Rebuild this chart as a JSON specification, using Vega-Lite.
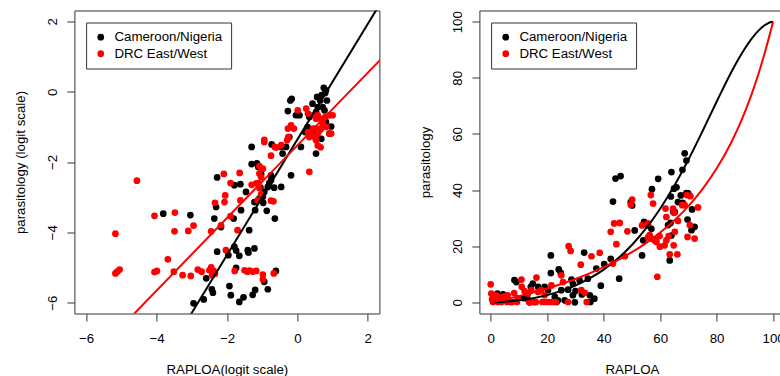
{
"$schema": "https://vega.github.io/schema/vega-lite/v6.json",
"autosize": {"type": "pad"},
"padding": {"left": 12.4, "top": 9.5, "right": 0, "bottom": 0},
"background": "white",
"config": {
  "font": "Liberation Sans",
  "view": {"stroke": "#333", "strokeWidth": 1},
  "axis": {"grid": false, "domain": false, "tickColor": "#333", "tickSize": 7.5, "tickWidth": 1,
    "labelFont": "Liberation Sans", "labelFontSize": 13.3, "labelColor": "black", "labelOverlap": false, "labelFlush": false,
    "titleFont": "Liberation Sans", "titleFontSize": 13.3, "titleFontWeight": "normal", "titleColor": "black"},
  "axisX": {"labelBaseline": "alphabetic", "labelPadding": 21.9, "titleX": 152.5, "titleY": 60.5, "titleAlign": "center", "titleBaseline": "alphabetic"},
  "axisY": {"labelAngle": -90, "labelAlign": "center", "labelBaseline": "alphabetic", "labelPadding": 10, "titleX": -50, "titleY": 151.5, "titleAngle": -90, "titleAlign": "center", "titleBaseline": "alphabetic"},
  "legend": {"orient": "none", "legendX": 11.7, "legendY": 12, "strokeColor": "#333", "fillColor": "white", "padding": 8,
    "symbolType": "circle", "symbolSize": 45, "symbolStrokeWidth": 0, "symbolOpacity": 1,
    "labelFont": "Liberation Sans", "labelFontSize": 13.3, "labelColor": "black", "labelOffset": 7, "rowPadding": 2.5}
},
"datasets": {
  "lp": [
    {"g":"Cameroon/Nigeria","x":-3.81,"y":-3.47},{"g":"Cameroon/Nigeria","x":-3.04,"y":-3.51},{"g":"Cameroon/Nigeria","x":-2.95,"y":-6.02},
    {"g":"Cameroon/Nigeria","x":-2.66,"y":-5.91},{"g":"Cameroon/Nigeria","x":-2.59,"y":-5.31},{"g":"Cameroon/Nigeria","x":-2.43,"y":-5.62},
    {"g":"Cameroon/Nigeria","x":-2.40,"y":-5.72},{"g":"Cameroon/Nigeria","x":-2.36,"y":-3.61},{"g":"Cameroon/Nigeria","x":-2.31,"y":-3.28},
    {"g":"Cameroon/Nigeria","x":-2.28,"y":-2.44},{"g":"Cameroon/Nigeria","x":-2.28,"y":-4.55},{"g":"Cameroon/Nigeria","x":-2.17,"y":-3.85},
    {"g":"Cameroon/Nigeria","x":-1.93,"y":-5.53},{"g":"Cameroon/Nigeria","x":-1.89,"y":-5.79},{"g":"Cameroon/Nigeria","x":-1.79,"y":-2.66},
    {"g":"Cameroon/Nigeria","x":-1.81,"y":-3.61},{"g":"Cameroon/Nigeria","x":-1.79,"y":-4.41},{"g":"Cameroon/Nigeria","x":-1.74,"y":-4.52},
    {"g":"Cameroon/Nigeria","x":-1.65,"y":-4.67},{"g":"Cameroon/Nigeria","x":-1.74,"y":-5.01},{"g":"Cameroon/Nigeria","x":-1.62,"y":-2.63},
    {"g":"Cameroon/Nigeria","x":-1.60,"y":-3.37},{"g":"Cameroon/Nigeria","x":-1.65,"y":-5.98},{"g":"Cameroon/Nigeria","x":-1.53,"y":-5.85},
    {"g":"Cameroon/Nigeria","x":-1.46,"y":-2.85},{"g":"Cameroon/Nigeria","x":-1.41,"y":-4.51},{"g":"Cameroon/Nigeria","x":-1.37,"y":-3.94},
    {"g":"Cameroon/Nigeria","x":-1.30,"y":-1.57},{"g":"Cameroon/Nigeria","x":-1.30,"y":-2.06},{"g":"Cameroon/Nigeria","x":-1.27,"y":-5.78},
    {"g":"Cameroon/Nigeria","x":-1.20,"y":-5.64},{"g":"Cameroon/Nigeria","x":-1.22,"y":-4.46},{"g":"Cameroon/Nigeria","x":-1.20,"y":-3.37},
    {"g":"Cameroon/Nigeria","x":-1.15,"y":-2.04},{"g":"Cameroon/Nigeria","x":-1.11,"y":-2.14},{"g":"Cameroon/Nigeria","x":-1.03,"y":-2.34},
    {"g":"Cameroon/Nigeria","x":-1.05,"y":-2.73},{"g":"Cameroon/Nigeria","x":-0.98,"y":-2.99},{"g":"Cameroon/Nigeria","x":-0.97,"y":-3.16},
    {"g":"Cameroon/Nigeria","x":-0.94,"y":-5.41},{"g":"Cameroon/Nigeria","x":-0.87,"y":-3.39},{"g":"Cameroon/Nigeria","x":-0.84,"y":-5.62},
    {"g":"Cameroon/Nigeria","x":-0.80,"y":-2.60},{"g":"Cameroon/Nigeria","x":-0.75,"y":-2.38},{"g":"Cameroon/Nigeria","x":-0.73,"y":-1.50},
    {"g":"Cameroon/Nigeria","x":-0.66,"y":-2.73},{"g":"Cameroon/Nigeria","x":-0.64,"y":-3.61},{"g":"Cameroon/Nigeria","x":-0.61,"y":-5.10},
    {"g":"Cameroon/Nigeria","x":-0.46,"y":-2.71},{"g":"Cameroon/Nigeria","x":-0.42,"y":-1.76},{"g":"Cameroon/Nigeria","x":-0.32,"y":-1.57},
    {"g":"Cameroon/Nigeria","x":-0.18,"y":-2.38},{"g":"Cameroon/Nigeria","x":-0.23,"y":-1.29},{"g":"Cameroon/Nigeria","x":-0.27,"y":-0.55},
    {"g":"Cameroon/Nigeria","x":-0.20,"y":-0.25},{"g":"Cameroon/Nigeria","x":-0.16,"y":-0.20},{"g":"Cameroon/Nigeria","x":-0.04,"y":-0.67},
    {"g":"Cameroon/Nigeria","x":0.06,"y":-0.67},{"g":"Cameroon/Nigeria","x":0.10,"y":-1.57},{"g":"Cameroon/Nigeria","x":0.22,"y":-1.15},
    {"g":"Cameroon/Nigeria","x":0.34,"y":-0.72},{"g":"Cameroon/Nigeria","x":0.43,"y":-0.34},{"g":"Cameroon/Nigeria","x":0.53,"y":-0.58},
    {"g":"Cameroon/Nigeria","x":0.56,"y":-0.15},{"g":"Cameroon/Nigeria","x":0.58,"y":-0.44},{"g":"Cameroon/Nigeria","x":0.53,"y":-1.76},
    {"g":"Cameroon/Nigeria","x":0.65,"y":-0.25},{"g":"Cameroon/Nigeria","x":0.69,"y":-0.10},{"g":"Cameroon/Nigeria","x":0.72,"y":-0.44},
    {"g":"Cameroon/Nigeria","x":0.77,"y":-0.53},{"g":"Cameroon/Nigeria","x":0.75,"y":0.11},{"g":"Cameroon/Nigeria","x":0.81,"y":0.04},
    {"g":"Cameroon/Nigeria","x":0.79,"y":-0.04},{"g":"Cameroon/Nigeria","x":0.84,"y":-0.25},{"g":"Cameroon/Nigeria","x":0.81,"y":-0.86},
    {"g":"Cameroon/Nigeria","x":0.96,"y":-0.99},{"g":"Cameroon/Nigeria","x":0.91,"y":-1.19},{"g":"Cameroon/Nigeria","x":0.68,"y":-1.34},
    {"g":"Cameroon/Nigeria","x":0.43,"y":-1.15},{"g":"Cameroon/Nigeria","x":0.29,"y":-1.01},{"g":"Cameroon/Nigeria","x":-1.22,"y":-3.14},
    {"g":"Cameroon/Nigeria","x":-1.08,"y":-3.04},{"g":"Cameroon/Nigeria","x":-0.94,"y":-2.85},{"g":"Cameroon/Nigeria","x":-0.84,"y":-2.71},
    {"g":"Cameroon/Nigeria","x":-0.75,"y":-2.52},{"g":"Cameroon/Nigeria","x":-0.46,"y":-1.57},{"g":"Cameroon/Nigeria","x":-1.96,"y":-4.65},
    {"g":"Cameroon/Nigeria","x":-1.39,"y":-4.58},
    {"g":"DRC East/West","x":-4.56,"y":-2.53},{"g":"DRC East/West","x":-5.17,"y":-4.04},{"g":"DRC East/West","x":-5.17,"y":-5.17},
    {"g":"DRC East/West","x":-5.12,"y":-5.12},{"g":"DRC East/West","x":-5.05,"y":-5.06},{"g":"DRC East/West","x":-4.06,"y":-3.53},
    {"g":"DRC East/West","x":-4.06,"y":-5.13},{"g":"DRC East/West","x":-3.99,"y":-5.10},{"g":"DRC East/West","x":-3.68,"y":-4.77},
    {"g":"DRC East/West","x":-3.48,"y":-3.44},{"g":"DRC East/West","x":-3.49,"y":-3.97},{"g":"DRC East/West","x":-3.51,"y":-5.12},
    {"g":"DRC East/West","x":-3.26,"y":-5.22},{"g":"DRC East/West","x":-3.10,"y":-3.96},{"g":"DRC East/West","x":-2.95,"y":-3.81},
    {"g":"DRC East/West","x":-3.03,"y":-5.24},{"g":"DRC East/West","x":-2.83,"y":-5.06},{"g":"DRC East/West","x":-2.72,"y":-5.12},
    {"g":"DRC East/West","x":-2.50,"y":-5.08},{"g":"DRC East/West","x":-2.45,"y":-5.00},{"g":"DRC East/West","x":-2.42,"y":-5.22},
    {"g":"DRC East/West","x":-2.38,"y":-5.10},{"g":"DRC East/West","x":-2.34,"y":-5.18},{"g":"DRC East/West","x":-2.45,"y":-3.97},
    {"g":"DRC East/West","x":-2.34,"y":-3.16},{"g":"DRC East/West","x":-2.09,"y":-2.34},{"g":"DRC East/West","x":-2.05,"y":-2.95},
    {"g":"DRC East/West","x":-1.90,"y":-2.60},{"g":"DRC East/West","x":-1.90,"y":-3.54},{"g":"DRC East/West","x":-2.17,"y":-3.80},
    {"g":"DRC East/West","x":-2.03,"y":-4.51},{"g":"DRC East/West","x":-1.64,"y":-2.31},{"g":"DRC East/West","x":-1.62,"y":-3.09},
    {"g":"DRC East/West","x":-1.70,"y":-3.94},{"g":"DRC East/West","x":-1.78,"y":-5.10},{"g":"DRC East/West","x":-1.50,"y":-5.08},
    {"g":"DRC East/West","x":-1.42,"y":-5.12},{"g":"DRC East/West","x":-1.36,"y":-5.09},{"g":"DRC East/West","x":-1.26,"y":-5.12},
    {"g":"DRC East/West","x":-1.17,"y":-5.10},{"g":"DRC East/West","x":-0.98,"y":-5.20},{"g":"DRC East/West","x":-0.98,"y":-5.34},
    {"g":"DRC East/West","x":-0.67,"y":-5.17},{"g":"DRC East/West","x":-1.30,"y":-2.65},{"g":"DRC East/West","x":-1.11,"y":-2.60},
    {"g":"DRC East/West","x":-1.08,"y":-2.74},{"g":"DRC East/West","x":-1.03,"y":-2.92},{"g":"DRC East/West","x":-1.13,"y":-3.09},
    {"g":"DRC East/West","x":-0.75,"y":-3.10},{"g":"DRC East/West","x":-0.68,"y":-3.12},{"g":"DRC East/West","x":-0.94,"y":-1.37},
    {"g":"DRC East/West","x":-0.94,"y":-1.43},{"g":"DRC East/West","x":-0.75,"y":-1.82},{"g":"DRC East/West","x":-0.64,"y":-1.57},
    {"g":"DRC East/West","x":-0.46,"y":-1.52},{"g":"DRC East/West","x":-0.27,"y":-1.05},{"g":"DRC East/West","x":-0.18,"y":-0.96},
    {"g":"DRC East/West","x":-0.10,"y":-1.05},{"g":"DRC East/West","x":0.01,"y":-0.53},{"g":"DRC East/West","x":0.34,"y":-2.28},
    {"g":"DRC East/West","x":0.25,"y":-0.48},{"g":"DRC East/West","x":0.30,"y":-0.62},{"g":"DRC East/West","x":0.44,"y":-0.67},
    {"g":"DRC East/West","x":0.53,"y":-0.77},{"g":"DRC East/West","x":0.58,"y":-0.67},{"g":"DRC East/West","x":0.66,"y":-0.77},
    {"g":"DRC East/West","x":0.72,"y":-0.86},{"g":"DRC East/West","x":0.79,"y":-0.72},{"g":"DRC East/West","x":0.91,"y":-0.67},
    {"g":"DRC East/West","x":1.00,"y":-0.67},{"g":"DRC East/West","x":0.30,"y":-1.15},{"g":"DRC East/West","x":0.34,"y":-1.29},
    {"g":"DRC East/West","x":0.39,"y":-1.19},{"g":"DRC East/West","x":0.49,"y":-1.29},{"g":"DRC East/West","x":0.53,"y":-1.38},
    {"g":"DRC East/West","x":0.58,"y":-1.19},{"g":"DRC East/West","x":0.63,"y":-1.10},{"g":"DRC East/West","x":0.68,"y":-1.05},
    {"g":"DRC East/West","x":0.72,"y":-0.96},{"g":"DRC East/West","x":0.82,"y":-1.00},{"g":"DRC East/West","x":0.91,"y":-1.19},
    {"g":"DRC East/West","x":0.96,"y":-1.19},{"g":"DRC East/West","x":0.58,"y":-1.53},{"g":"DRC East/West","x":0.66,"y":-1.58},
    {"g":"DRC East/West","x":0.53,"y":-1.05},{"g":"DRC East/West","x":0.44,"y":-1.05},{"g":"DRC East/West","x":-2.07,"y":-3.14},
    {"g":"DRC East/West","x":-1.17,"y":-2.61},{"g":"DRC East/West","x":-1.03,"y":-2.43},{"g":"DRC East/West","x":-1.08,"y":-2.33},
    {"g":"DRC East/West","x":-0.98,"y":-2.19},{"g":"DRC East/West","x":-1.08,"y":-2.12},{"g":"DRC East/West","x":-0.60,"y":-1.59},
    {"g":"DRC East/West","x":-0.29,"y":-1.38},{"g":"DRC East/West","x":-0.26,"y":-1.29}
  ],
  "ll": [
    {"g":"Cameroon/Nigeria","x":-3.6,"y":-7.278},{"g":"Cameroon/Nigeria","x":2.6,"y":2.914},
    {"g":"DRC East/West","x":-5.0,"y":-6.691},{"g":"DRC East/West","x":2.5,"y":1.057}
  ],
  "rp": [
    {"g":"Cameroon/Nigeria","x":68.7,"y":53.1},{"g":"Cameroon/Nigeria","x":69.3,"y":50.5},{"g":"Cameroon/Nigeria","x":67.9,"y":47.2},
    {"g":"Cameroon/Nigeria","x":64.0,"y":46.4},{"g":"Cameroon/Nigeria","x":59.3,"y":44.0},{"g":"Cameroon/Nigeria","x":46.0,"y":45.0},
    {"g":"Cameroon/Nigeria","x":44.2,"y":44.1},{"g":"Cameroon/Nigeria","x":43.3,"y":35.9},{"g":"Cameroon/Nigeria","x":65.8,"y":41.0},
    {"g":"Cameroon/Nigeria","x":64.9,"y":40.5},{"g":"Cameroon/Nigeria","x":57.1,"y":40.3},{"g":"Cameroon/Nigeria","x":63.8,"y":37.7},
    {"g":"Cameroon/Nigeria","x":67.3,"y":38.1},{"g":"Cameroon/Nigeria","x":69.3,"y":38.9},{"g":"Cameroon/Nigeria","x":69.9,"y":38.8},
    {"g":"Cameroon/Nigeria","x":68.0,"y":35.4},{"g":"Cameroon/Nigeria","x":65.2,"y":32.1},{"g":"Cameroon/Nigeria","x":64.7,"y":32.2},
    {"g":"Cameroon/Nigeria","x":71.3,"y":33.1},{"g":"Cameroon/Nigeria","x":49.6,"y":35.7},{"g":"Cameroon/Nigeria","x":50.1,"y":34.5},
    {"g":"Cameroon/Nigeria","x":51.0,"y":25.6},{"g":"Cameroon/Nigeria","x":55.7,"y":27.4},{"g":"Cameroon/Nigeria","x":56.9,"y":26.2},
    {"g":"Cameroon/Nigeria","x":54.0,"y":22.1},{"g":"Cameroon/Nigeria","x":53.6,"y":16.7},{"g":"Cameroon/Nigeria","x":58.1,"y":22.1},
    {"g":"Cameroon/Nigeria","x":64.0,"y":23.8},{"g":"Cameroon/Nigeria","x":63.4,"y":14.9},{"g":"Cameroon/Nigeria","x":66.3,"y":35.7},
    {"g":"Cameroon/Nigeria","x":69.7,"y":29.5},{"g":"Cameroon/Nigeria","x":72.2,"y":26.9},{"g":"Cameroon/Nigeria","x":71.1,"y":25.7},
    {"g":"Cameroon/Nigeria","x":62.8,"y":27.5},{"g":"Cameroon/Nigeria","x":63.7,"y":28.3},{"g":"Cameroon/Nigeria","x":54.3,"y":28.7},
    {"g":"Cameroon/Nigeria","x":33.1,"y":17.7},{"g":"Cameroon/Nigeria","x":21.3,"y":16.7},{"g":"Cameroon/Nigeria","x":21.3,"y":10.4},
    {"g":"Cameroon/Nigeria","x":24.1,"y":11.7},{"g":"Cameroon/Nigeria","x":24.8,"y":10.5},{"g":"Cameroon/Nigeria","x":28.6,"y":8.1},
    {"g":"Cameroon/Nigeria","x":29.1,"y":6.6},{"g":"Cameroon/Nigeria","x":31.5,"y":7.8},{"g":"Cameroon/Nigeria","x":34.4,"y":8.4},
    {"g":"Cameroon/Nigeria","x":37.4,"y":12.0},{"g":"Cameroon/Nigeria","x":40.2,"y":13.6},{"g":"Cameroon/Nigeria","x":42.5,"y":15.5},
    {"g":"Cameroon/Nigeria","x":45.5,"y":8.4},{"g":"Cameroon/Nigeria","x":39.0,"y":5.9},{"g":"Cameroon/Nigeria","x":32.3,"y":2.8},
    {"g":"Cameroon/Nigeria","x":35.1,"y":2.5},{"g":"Cameroon/Nigeria","x":35.3,"y":0.1},{"g":"Cameroon/Nigeria","x":36.7,"y":1.3},
    {"g":"Cameroon/Nigeria","x":29.8,"y":0.0},{"g":"Cameroon/Nigeria","x":29.1,"y":2.5},{"g":"Cameroon/Nigeria","x":25.0,"y":4.3},
    {"g":"Cameroon/Nigeria","x":22.7,"y":1.9},{"g":"Cameroon/Nigeria","x":20.3,"y":4.3},{"g":"Cameroon/Nigeria","x":19.1,"y":5.5},
    {"g":"Cameroon/Nigeria","x":16.8,"y":5.5},{"g":"Cameroon/Nigeria","x":14.9,"y":6.7},{"g":"Cameroon/Nigeria","x":14.2,"y":5.5},
    {"g":"Cameroon/Nigeria","x":13.8,"y":0.0},{"g":"Cameroon/Nigeria","x":13.0,"y":1.3},{"g":"Cameroon/Nigeria","x":11.5,"y":1.5},
    {"g":"Cameroon/Nigeria","x":9.1,"y":7.2},{"g":"Cameroon/Nigeria","x":8.4,"y":7.9},{"g":"Cameroon/Nigeria","x":5.5,"y":1.9},
    {"g":"Cameroon/Nigeria","x":4.4,"y":2.8},{"g":"Cameroon/Nigeria","x":2.4,"y":3.1},{"g":"Cameroon/Nigeria","x":1.4,"y":1.5},
    {"g":"Cameroon/Nigeria","x":3.8,"y":0.7},{"g":"Cameroon/Nigeria","x":7.3,"y":0.1},{"g":"Cameroon/Nigeria","x":15.6,"y":0.1},
    {"g":"Cameroon/Nigeria","x":23.3,"y":0.1},{"g":"Cameroon/Nigeria","x":26.2,"y":0.7},{"g":"Cameroon/Nigeria","x":23.8,"y":0.7},
    {"g":"Cameroon/Nigeria","x":27.4,"y":4.5},{"g":"Cameroon/Nigeria","x":30.0,"y":4.0},
    {"g":"DRC East/West","x":0.0,"y":6.4},{"g":"DRC East/West","x":0.2,"y":3.1},{"g":"DRC East/West","x":0.5,"y":1.0},
    {"g":"DRC East/West","x":0.8,"y":0.1},{"g":"DRC East/West","x":1.4,"y":0.6},{"g":"DRC East/West","x":2.0,"y":1.2},
    {"g":"DRC East/West","x":2.6,"y":0.1},{"g":"DRC East/West","x":3.2,"y":0.6},{"g":"DRC East/West","x":3.8,"y":0.1},
    {"g":"DRC East/West","x":5.0,"y":0.6},{"g":"DRC East/West","x":1.7,"y":2.5},{"g":"DRC East/West","x":2.8,"y":1.9},
    {"g":"DRC East/West","x":3.5,"y":1.2},{"g":"DRC East/West","x":4.5,"y":2.0},{"g":"DRC East/West","x":5.8,"y":0.1},
    {"g":"DRC East/West","x":7.6,"y":0.1},{"g":"DRC East/West","x":9.3,"y":0.1},{"g":"DRC East/West","x":8.3,"y":3.3},
    {"g":"DRC East/West","x":10.9,"y":8.1},{"g":"DRC East/West","x":12.0,"y":4.0},{"g":"DRC East/West","x":13.2,"y":3.1},
    {"g":"DRC East/West","x":14.4,"y":4.3},{"g":"DRC East/West","x":16.2,"y":8.8},{"g":"DRC East/West","x":16.8,"y":3.7},
    {"g":"DRC East/West","x":17.9,"y":4.3},{"g":"DRC East/West","x":19.1,"y":2.5},{"g":"DRC East/West","x":18.3,"y":0.1},
    {"g":"DRC East/West","x":19.5,"y":0.1},{"g":"DRC East/West","x":20.7,"y":0.1},{"g":"DRC East/West","x":21.9,"y":0.1},
    {"g":"DRC East/West","x":23.0,"y":0.1},{"g":"DRC East/West","x":16.0,"y":0.1},{"g":"DRC East/West","x":14.8,"y":0.1},
    {"g":"DRC East/West","x":13.6,"y":0.1},{"g":"DRC East/West","x":21.5,"y":6.0},{"g":"DRC East/West","x":25.0,"y":9.6},
    {"g":"DRC East/West","x":25.6,"y":7.2},{"g":"DRC East/West","x":27.6,"y":20.0},{"g":"DRC East/West","x":28.3,"y":18.3},
    {"g":"DRC East/West","x":31.9,"y":13.4},{"g":"DRC East/West","x":32.1,"y":4.3},{"g":"DRC East/West","x":33.3,"y":3.4},
    {"g":"DRC East/West","x":35.7,"y":16.4},{"g":"DRC East/West","x":38.6,"y":17.6},{"g":"DRC East/West","x":27.4,"y":0.1},
    {"g":"DRC East/West","x":34.0,"y":0.1},{"g":"DRC East/West","x":43.3,"y":13.8},{"g":"DRC East/West","x":44.5,"y":20.7},
    {"g":"DRC East/West","x":42.5,"y":25.1},{"g":"DRC East/West","x":43.7,"y":28.1},{"g":"DRC East/West","x":45.7,"y":28.3},
    {"g":"DRC East/West","x":48.4,"y":25.3},{"g":"DRC East/West","x":47.5,"y":16.4},{"g":"DRC East/West","x":50.1,"y":36.6},
    {"g":"DRC East/West","x":49.6,"y":34.8},{"g":"DRC East/West","x":53.6,"y":27.4},{"g":"DRC East/West","x":55.7,"y":28.1},
    {"g":"DRC East/West","x":56.7,"y":38.2},{"g":"DRC East/West","x":57.5,"y":35.2},{"g":"DRC East/West","x":55.7,"y":23.1},
    {"g":"DRC East/West","x":56.3,"y":23.9},{"g":"DRC East/West","x":56.9,"y":22.7},{"g":"DRC East/West","x":58.1,"y":22.1},
    {"g":"DRC East/West","x":58.7,"y":21.5},{"g":"DRC East/West","x":59.8,"y":23.6},{"g":"DRC East/West","x":59.0,"y":9.1},
    {"g":"DRC East/West","x":59.9,"y":19.8},{"g":"DRC East/West","x":61.6,"y":20.3},{"g":"DRC East/West","x":62.2,"y":22.1},
    {"g":"DRC East/West","x":63.0,"y":23.6},{"g":"DRC East/West","x":61.9,"y":33.4},{"g":"DRC East/West","x":62.2,"y":30.4},
    {"g":"DRC East/West","x":64.6,"y":33.4},{"g":"DRC East/West","x":64.9,"y":31.9},{"g":"DRC East/West","x":66.3,"y":29.0},
    {"g":"DRC East/West","x":65.2,"y":25.1},{"g":"DRC East/West","x":64.8,"y":20.3},{"g":"DRC East/West","x":63.4,"y":17.1},
    {"g":"DRC East/West","x":66.1,"y":17.1},{"g":"DRC East/West","x":69.5,"y":38.2},{"g":"DRC East/West","x":70.7,"y":37.8},
    {"g":"DRC East/West","x":67.8,"y":34.6},{"g":"DRC East/West","x":68.7,"y":34.6},{"g":"DRC East/West","x":70.5,"y":27.5},
    {"g":"DRC East/West","x":69.7,"y":23.3},{"g":"DRC East/West","x":72.2,"y":22.7},{"g":"DRC East/West","x":73.4,"y":33.8},
    {"g":"DRC East/West","x":6.0,"y":2.5},{"g":"DRC East/West","x":9.5,"y":1.5},{"g":"DRC East/West","x":11.0,"y":5.5}
  ],
  "rl": [
    {"g":"Cameroon/Nigeria","x":0,"y":0},{"g":"Cameroon/Nigeria","x":1,"y":0.013},{"g":"Cameroon/Nigeria","x":2,"y":0.043},
    {"g":"Cameroon/Nigeria","x":5,"y":0.20},{"g":"Cameroon/Nigeria","x":10,"y":0.69},{"g":"Cameroon/Nigeria","x":15,"y":1.46},
    {"g":"Cameroon/Nigeria","x":20,"y":2.56},{"g":"Cameroon/Nigeria","x":25,"y":4.05},{"g":"Cameroon/Nigeria","x":30,"y":5.99},
    {"g":"Cameroon/Nigeria","x":35,"y":8.49},{"g":"Cameroon/Nigeria","x":40,"y":11.64},{"g":"Cameroon/Nigeria","x":45,"y":15.58},
    {"g":"Cameroon/Nigeria","x":50,"y":20.42},{"g":"Cameroon/Nigeria","x":55,"y":26.31},{"g":"Cameroon/Nigeria","x":60,"y":33.33},
    {"g":"Cameroon/Nigeria","x":65,"y":41.53},{"g":"Cameroon/Nigeria","x":70,"y":50.83},{"g":"Cameroon/Nigeria","x":75,"y":60.98},
    {"g":"Cameroon/Nigeria","x":80,"y":71.48},{"g":"Cameroon/Nigeria","x":85,"y":81.64},{"g":"Cameroon/Nigeria","x":87.5,"y":86.29},
    {"g":"Cameroon/Nigeria","x":90,"y":90.48},{"g":"Cameroon/Nigeria","x":92.5,"y":94.10},{"g":"Cameroon/Nigeria","x":95,"y":97.01},
    {"g":"Cameroon/Nigeria","x":97,"y":98.73},{"g":"Cameroon/Nigeria","x":98,"y":99.36},{"g":"Cameroon/Nigeria","x":99,"y":99.80},
    {"g":"Cameroon/Nigeria","x":100,"y":100},
    {"g":"DRC East/West","x":0,"y":0},{"g":"DRC East/West","x":1,"y":0.19},{"g":"DRC East/West","x":2,"y":0.39},
    {"g":"DRC East/West","x":5,"y":1.03},{"g":"DRC East/West","x":10,"y":2.20},{"g":"DRC East/West","x":15,"y":3.50},
    {"g":"DRC East/West","x":20,"y":4.94},{"g":"DRC East/West","x":25,"y":6.53},{"g":"DRC East/West","x":30,"y":8.31},
    {"g":"DRC East/West","x":35,"y":10.29},{"g":"DRC East/West","x":40,"y":12.51},{"g":"DRC East/West","x":45,"y":15.02},
    {"g":"DRC East/West","x":50,"y":17.86},{"g":"DRC East/West","x":55,"y":21.10},{"g":"DRC East/West","x":60,"y":24.84},
    {"g":"DRC East/West","x":65,"y":29.18},{"g":"DRC East/West","x":70,"y":34.28},{"g":"DRC East/West","x":75,"y":40.35},
    {"g":"DRC East/West","x":80,"y":47.65},{"g":"DRC East/West","x":85,"y":56.60},{"g":"DRC East/West","x":87.5,"y":61.87},
    {"g":"DRC East/West","x":90,"y":67.78},{"g":"DRC East/West","x":92.5,"y":74.44},{"g":"DRC East/West","x":95,"y":81.98},
    {"g":"DRC East/West","x":97,"y":88.75},{"g":"DRC East/West","x":98,"y":92.37},{"g":"DRC East/West","x":99,"y":96.16},
    {"g":"DRC East/West","x":100,"y":100}
  ]
},
"resolve": {"legend": {"color": "independent"}},
"bounds": "flush",
"spacing": 100,
"hconcat": [
  {
    "width": 305, "height": 303,
    "encoding": {
      "x": {"field": "x", "type": "quantitative", "scale": {"domain": [-6.335, 2.33], "nice": false, "zero": false},
            "axis": {"values": [-6, -4, -2, 0, 2], "title": "RAPLOA(logit scale)"}},
      "y": {"field": "y", "type": "quantitative", "scale": {"domain": [-6.31, 2.31], "nice": false, "zero": false},
            "axis": {"values": [-6, -4, -2, 0, 2], "title": "parasitology (logit scale)"}}
    },
    "layer": [
      {"data": {"name": "lp"}, "mark": {"type": "circle", "size": 45, "opacity": 1},
       "encoding": {"color": {"field": "g", "type": "nominal",
          "scale": {"domain": ["Cameroon/Nigeria", "DRC East/West"], "range": ["#000000", "#FF0000"]},
          "legend": {"title": null}}}},
      {"data": {"name": "ll"}, "mark": {"type": "line", "strokeWidth": 2, "clip": true},
       "encoding": {"color": {"field": "g", "type": "nominal", "legend": null}}}
    ]
  },
  {
    "width": 305, "height": 303,
    "encoding": {
      "x": {"field": "x", "type": "quantitative", "scale": {"domain": [-4, 104], "nice": false, "zero": false},
            "axis": {"values": [0, 20, 40, 60, 80, 100], "title": "RAPLOA"}},
      "y": {"field": "y", "type": "quantitative", "scale": {"domain": [-4, 104], "nice": false, "zero": false},
            "axis": {"values": [0, 20, 40, 60, 80, 100], "title": "parasitology"}}
    },
    "layer": [
      {"data": {"name": "rp"}, "mark": {"type": "circle", "size": 45, "opacity": 1},
       "encoding": {"color": {"field": "g", "type": "nominal",
          "scale": {"domain": ["Cameroon/Nigeria", "DRC East/West"], "range": ["#000000", "#FF0000"]},
          "legend": {"title": null}}}},
      {"data": {"name": "rl"}, "mark": {"type": "line", "strokeWidth": 2, "clip": true, "interpolate": "monotone"},
       "encoding": {"color": {"field": "g", "type": "nominal", "legend": null}}}
    ]
  }
]
}
